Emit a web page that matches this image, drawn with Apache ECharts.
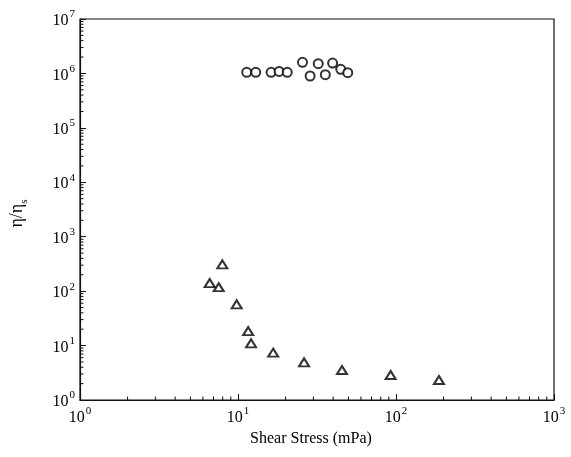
<!DOCTYPE html>
<html>
<head>
<meta charset="utf-8">
<script src="https://cdn.jsdelivr.net/npm/echarts@6/dist/echarts.min.js"></script>
<style>html,body{margin:0;padding:0;background:#fff;}#c{width:571px;height:457px;}</style>
</head>
<body>
<div id="c"></div>
<script>
// Circles (upper series)
const circleX = [11.35, 12.95, 16.2, 18.2, 20.5, 25.6, 28.6, 32.2, 35.7, 39.7, 44.7, 49.5];
const circleY = [1.05e6, 1.05e6, 1.05e6, 1.09e6, 1.05e6, 1.60e6, 8.97e5, 1.51e6, 9.48e5, 1.55e6, 1.19e6, 1.03e6];
// Triangles (lower series)
const triX = [7.96, 6.62, 7.55, 9.81, 11.6, 12.1, 16.7, 26.2, 45.5, 92.5, 187];
const triY = [311, 141, 118, 57.3, 18.5, 11.0, 7.40, 4.93, 3.56, 2.88, 2.33];
// Axis ranges / tick labels
const xMin = 1, xMax = 1000;
const yMin = 1, yMax = 1e7;
const xName = 'Shear Stress (mPa)';

const font = '"Liberation Serif", "DejaVu Serif", serif';
const supRich = {
  b: { fontSize: 16, fontFamily: font, color: '#000', verticalAlign: 'bottom', lineHeight: 20 },
  s: { fontSize: 11, fontFamily: font, color: '#000', verticalAlign: 'top', lineHeight: 20, padding: [0, 0, 0, 1] }
};
function powFmt(v) {
  const e = Math.round(Math.log10(v));
  return '{b|10}{s|' + e + '}';
}
const chart = echarts.init(document.getElementById('c'), null, { renderer: 'canvas' });
const option = {
  animation: false,
  backgroundColor: '#fff',
  grid: { left: 80, right: 17, top: 19, bottom: 57, show: true, borderColor: '#111', borderWidth: 1.2, backgroundColor: 'transparent' },
  xAxis: {
    type: 'log', logBase: 10, min: xMin, max: xMax,
    name: xName, nameLocation: 'middle', nameGap: 31,
    nameTextStyle: { fontFamily: font, fontSize: 16, color: '#000', padding: [0, 12, 0, 0] },
    axisLine: { lineStyle: { color: '#111', width: 1.2 } },
    axisTick: { inside: true, length: 6, lineStyle: { color: '#111' } },
    splitLine: { show: false },
    axisLabel: { formatter: powFmt, rich: supRich, margin: 6 }
  },
  yAxis: {
    type: 'log', logBase: 10, min: yMin, max: yMax,
    name: '{a|η/η}{s|s}', nameLocation: 'middle', nameGap: 50, nameRotate: 90,
    nameTextStyle: {
      padding: [0, 8, 0, 0],
      rich: {
        a: { fontSize: 18, fontFamily: font, color: '#000', verticalAlign: 'top', lineHeight: 22 },
        s: { fontSize: 11, fontFamily: font, color: '#000', verticalAlign: 'bottom', lineHeight: 22 }
      }
    },
    axisLine: { lineStyle: { color: '#111', width: 1.2 } },
    axisTick: { inside: true, length: 6, lineStyle: { color: '#111' } },
    splitLine: { show: false },
    axisLabel: { formatter: powFmt, rich: supRich, margin: 5 }
  },
  series: [
    {
      type: 'scatter', symbol: 'emptyCircle', symbolSize: 9,
      itemStyle: { color: '#000', borderColor: '#000', borderWidth: 1 },
      data: circleX.map((x, i) => [x, circleY[i]])
    },
    {
      type: 'scatter', symbol: 'emptyTriangle', symbolSize: [10, 8],
      itemStyle: { color: '#000', borderColor: '#000', borderWidth: 1 },
      data: triX.map((x, i) => [x, triY[i]])
    }
  ]
};
chart.setOption(option);

// minor ticks positioned through the library's log scales
const g = [];
for (let e = 0; e < 3; e++) {
  for (let k = 2; k <= 9; k++) {
    const v = k * Math.pow(10, e);
    const px = chart.convertToPixel({ xAxisIndex: 0 }, v);
    const py = chart.convertToPixel({ yAxisIndex: 0 }, yMin);
    g.push({ type: 'line', shape: { x1: px, y1: py, x2: px, y2: py - 3.5 }, style: { stroke: '#111', lineWidth: 1 }, silent: true });
  }
}
for (let e = 0; e < 7; e++) {
  for (let k = 2; k <= 9; k++) {
    const v = k * Math.pow(10, e);
    const py = chart.convertToPixel({ yAxisIndex: 0 }, v);
    const px = chart.convertToPixel({ xAxisIndex: 0 }, xMin);
    g.push({ type: 'line', shape: { x1: px, y1: py, x2: px + 3.5, y2: py }, style: { stroke: '#111', lineWidth: 1 }, silent: true });
  }
}
chart.setOption({ graphic: g });
</script>
</body>
</html>
